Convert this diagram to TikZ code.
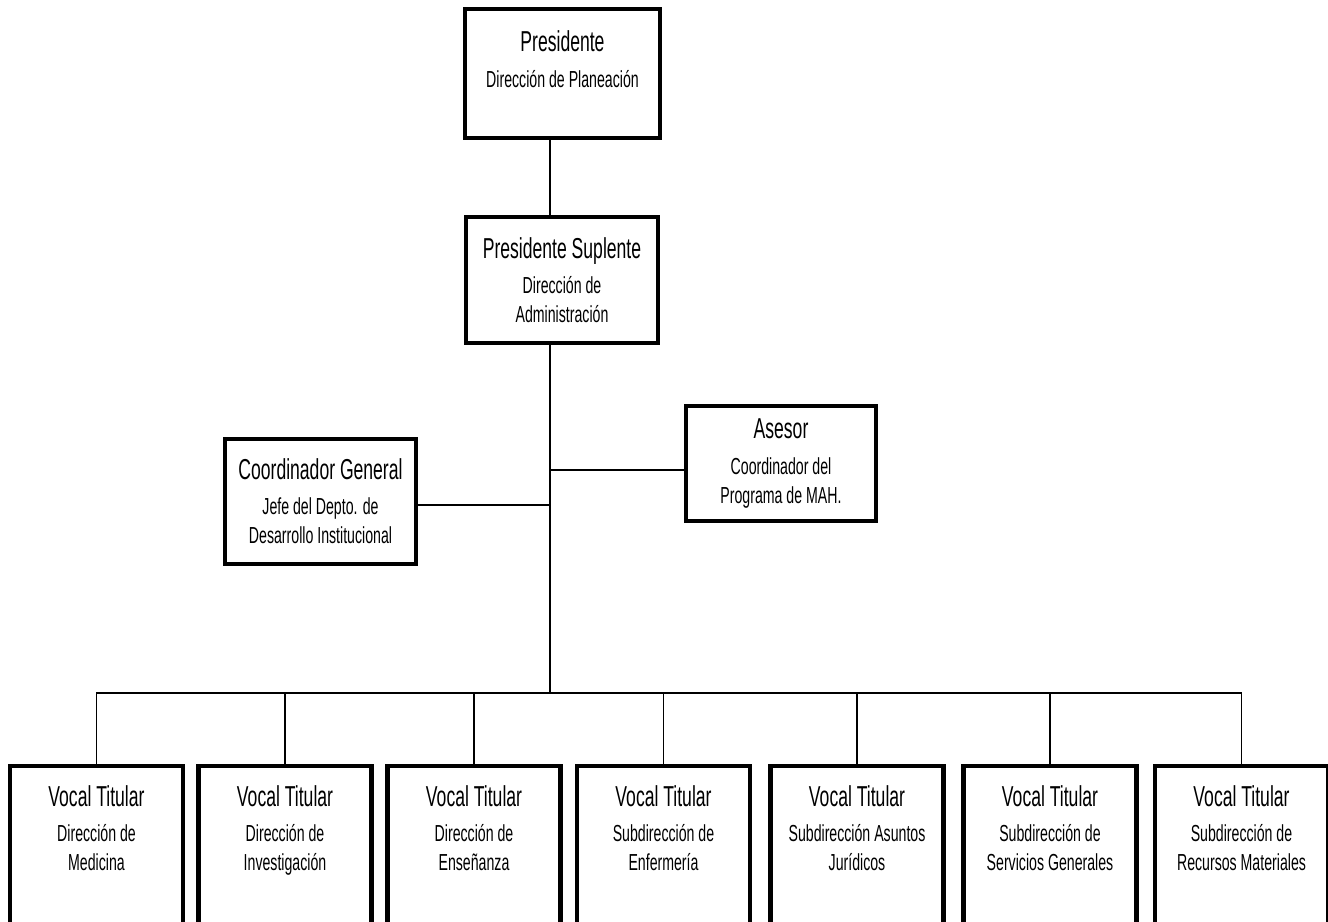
\documentclass[tikz,border=0pt]{standalone}
\usepackage{fontspec}
\setmainfont{Liberation Sans}[FakeStretch=0.61]
\usetikzlibrary{positioning}
\newcommand{\titfont}{\fontsize{16.4}{20}\selectfont}
\newcommand{\subfont}{\fontsize{13.2}{16.5}\selectfont}
\tikzset{
  box/.style={draw, line width=2.4pt, align=center, inner sep=0pt, font=\subfont},
  vocal/.style={box, anchor=north, minimum width=3.46cm, inner ysep=11pt, text depth=2.6cm},
  conn/.style={line width=1.1pt},
}
\begin{document}
\begin{tikzpicture}[x=0.02cm,y=-0.02cm]
\useasboundingbox (0,0) rectangle (1328,921);
\clip (0,0) rectangle (1328,921);
%
\node[box, minimum width=3.9cm, minimum height=2.58cm](pres) at (562.5,73.5)
  {{\titfont Presidente}\\[3.5pt] Dirección de Planeación\\ \mbox{}};
%
\node[box, minimum width=3.84cm, minimum height=2.52cm](supl) at (562,280)
  {{\titfont Presidente Suplente}\\[3.5pt] Dirección de\\ Administración};
%
\coordinate(jase) at (550,470);
\coordinate(jcoo) at (550,505);
\coordinate(bus) at (550,693);
%
\node[box, minimum width=3.82cm, minimum height=2.5cm](coord) at (320.5,501.5)
  {{\titfont Coordinador General}\\[3.5pt] Jefe del Depto. de\\ Desarrollo Institucional};
\node[box, minimum width=3.8cm, minimum height=2.3cm](asesor) at (781,463.5)
  {{\titfont Asesor}\\[3.5pt] Coordinador del\\ Programa de MAH.};
%
\draw[conn](pres.south -| bus) -- (supl.north -| bus);
\draw[conn](supl.south -| bus) -- (bus);
\draw[conn](jase) -- (jase -| asesor.west);
\draw[conn](jcoo) -- (jcoo -| coord.east);
%
\node[vocal](v1) at (96.5,764) {{\titfont Vocal Titular}\\[3.5pt] Dirección de\\ Medicina};
\node[vocal](v2) at (285,764) {{\titfont Vocal Titular}\\[3.5pt] Dirección de\\ Investigación};
\node[vocal](v3) at (474,764) {{\titfont Vocal Titular}\\[3.5pt] Dirección de\\ Enseñanza};
\node[vocal](v4) at (663.5,764) {{\titfont Vocal Titular}\\[3.5pt] Subdirección de\\ Enfermería};
\node[vocal](v5) at (857,764) {{\titfont Vocal Titular}\\[3.5pt] Subdirección Asuntos\\ Jurídicos};
\node[vocal](v6) at (1050,764) {{\titfont Vocal Titular}\\[3.5pt] Subdirección de\\ Servicios Generales};
\node[vocal](v7) at (1241.5,764) {{\titfont Vocal Titular}\\[3.5pt] Subdirección de\\ Recursos Materiales};
%
\draw[conn](v1.north) |- (v7.north |- bus) -- (v7.north);
\foreach \v in {v2,v3,v4,v5,v6}
  \draw[conn](\v.north) -- (\v.north |- bus);
\end{tikzpicture}
\end{document}
